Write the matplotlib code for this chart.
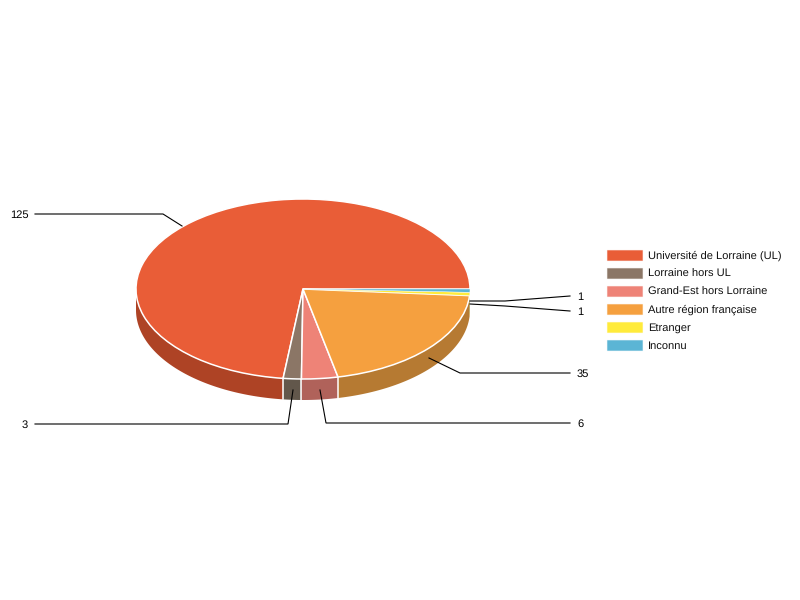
import numpy as np
import matplotlib
matplotlib.use("Agg")
import matplotlib.pyplot as plt
from matplotlib.colors import to_rgb
from matplotlib.patches import Patch

categories = ["Université de Lorraine (UL)", "Lorraine hors UL", "Grand-Est hors Lorraine",
              "Autre région française", "Etranger", "Inconnu"]
values = [125, 3, 6, 35, 1, 1]
colors = ["#E95D37", "#8B7666", "#EE8377", "#F5A03F", "#FFEB3B", "#5BB5D5"]
wall_colors = ["#AE4325", "#62574B", "#B0625A", "#B67A32", "#BDAE2C", "#43869E"]

# label placement in pixels: text anchor and leader polyline
label_points = {
    125: ((29, 215), "right", [(35, 214), (163, 214), (182, 226)]),
    3: ((28, 425), "right", [(35, 424), (288, 424), (293, 390)]),
    6: ((577, 424), "left", [(570, 423), (326, 423), (320, 390)]),
    35: ((577, 374), "left", [(570, 373), (460, 373), (429, 358)]),
}
one_labels = [((577, 297), [(570, 296), (505, 301), (470, 301)]),
              ((577, 312), [(570, 311), (505, 306), (470, 304)])]

plt.rcParams["font.family"] = ["Liberation Sans", "DejaVu Sans"]
plt.rcParams["text.hinting"] = "no_hinting"
plt.rcParams["text.hinting_factor"] = 8
plt.rcParams["text.kerning_factor"] = 6
W, H = 800, 600
fig = plt.figure(figsize=(8, 6), dpi=100, facecolor="white")

cx, cy, rx, ry, depth = 303, 289, 167, 90, 21
ax = fig.add_axes([(cx - rx) / W, (H - cy - ry) / H, 2 * rx / W, 2 * ry / H])
ax.patch.set_alpha(0)

# side wall (front half only)
edges = np.concatenate([[0], np.cumsum(values)]) / sum(values) * 360
d = depth / ry
for a0, a1, wc in zip(edges[:-1], edges[1:], wall_colors):
    lo, hi = max(a0, 180), min(a1, 360)
    if hi <= lo:
        continue
    t = np.radians(np.linspace(lo, hi, 120))
    xs = np.concatenate([np.cos(t), np.cos(t[::-1])])
    ys = np.concatenate([np.sin(t), np.sin(t[::-1]) - d])
    ax.fill(xs, ys, color=wc, lw=0, clip_on=False, zorder=1)
for a in edges[1:-1]:
    if 180 < a < 350:
        t = np.radians(a)
        ax.plot([np.cos(t)] * 2, [np.sin(t), np.sin(t) - d], color="white", lw=1.1,
                clip_on=False, zorder=2)

wedges, _ = ax.pie(values, colors=colors, startangle=0, counterclock=True, radius=1,
                   wedgeprops=dict(edgecolor="white", linewidth=1.1, clip_on=False, zorder=3))
for w, v in zip(wedges, values):
    w.set_zorder(3)
    if v == 1:
        w.set_linewidth(0.3)
ax.set_aspect("auto")
ax.set_xlim(-1, 1)
ax.set_ylim(-1, 1)

# overlay in pixel coordinates for leaders and labels
ov = fig.add_axes([0, 0, 1, 1], zorder=5)
ov.set_xlim(0, W)
ov.set_ylim(H, 0)
ov.axis("off")
for v, (pos, ha, line) in label_points.items():
    ov.plot(*zip(*line), color="black", lw=0.8, solid_joinstyle="miter")
    ov.text(pos[0], pos[1], str(v), ha=ha, va="center", fontsize=8, color="black")
for pos, line in one_labels:
    ov.plot(*zip(*line), color="black", lw=0.8, solid_joinstyle="miter")
    ov.text(pos[0], pos[1], "1", ha="left", va="center", fontsize=8, color="black")

handles = [Patch(facecolor=c, edgecolor=(*to_rgb(c), 0.45), linewidth=0.8, label=n)
           for c, n in zip(colors, categories)]
fig.legend(handles=handles, loc="upper left", bbox_to_anchor=(607 / W, (H - 250) / H),
           frameon=False, fontsize=8, handlelength=3.15, handleheight=1.0,
           handletextpad=0.54, labelspacing=0.625, borderpad=0, borderaxespad=0,
           labelcolor="#111111")

fig.savefig("out.png", dpi=100, facecolor="white")
